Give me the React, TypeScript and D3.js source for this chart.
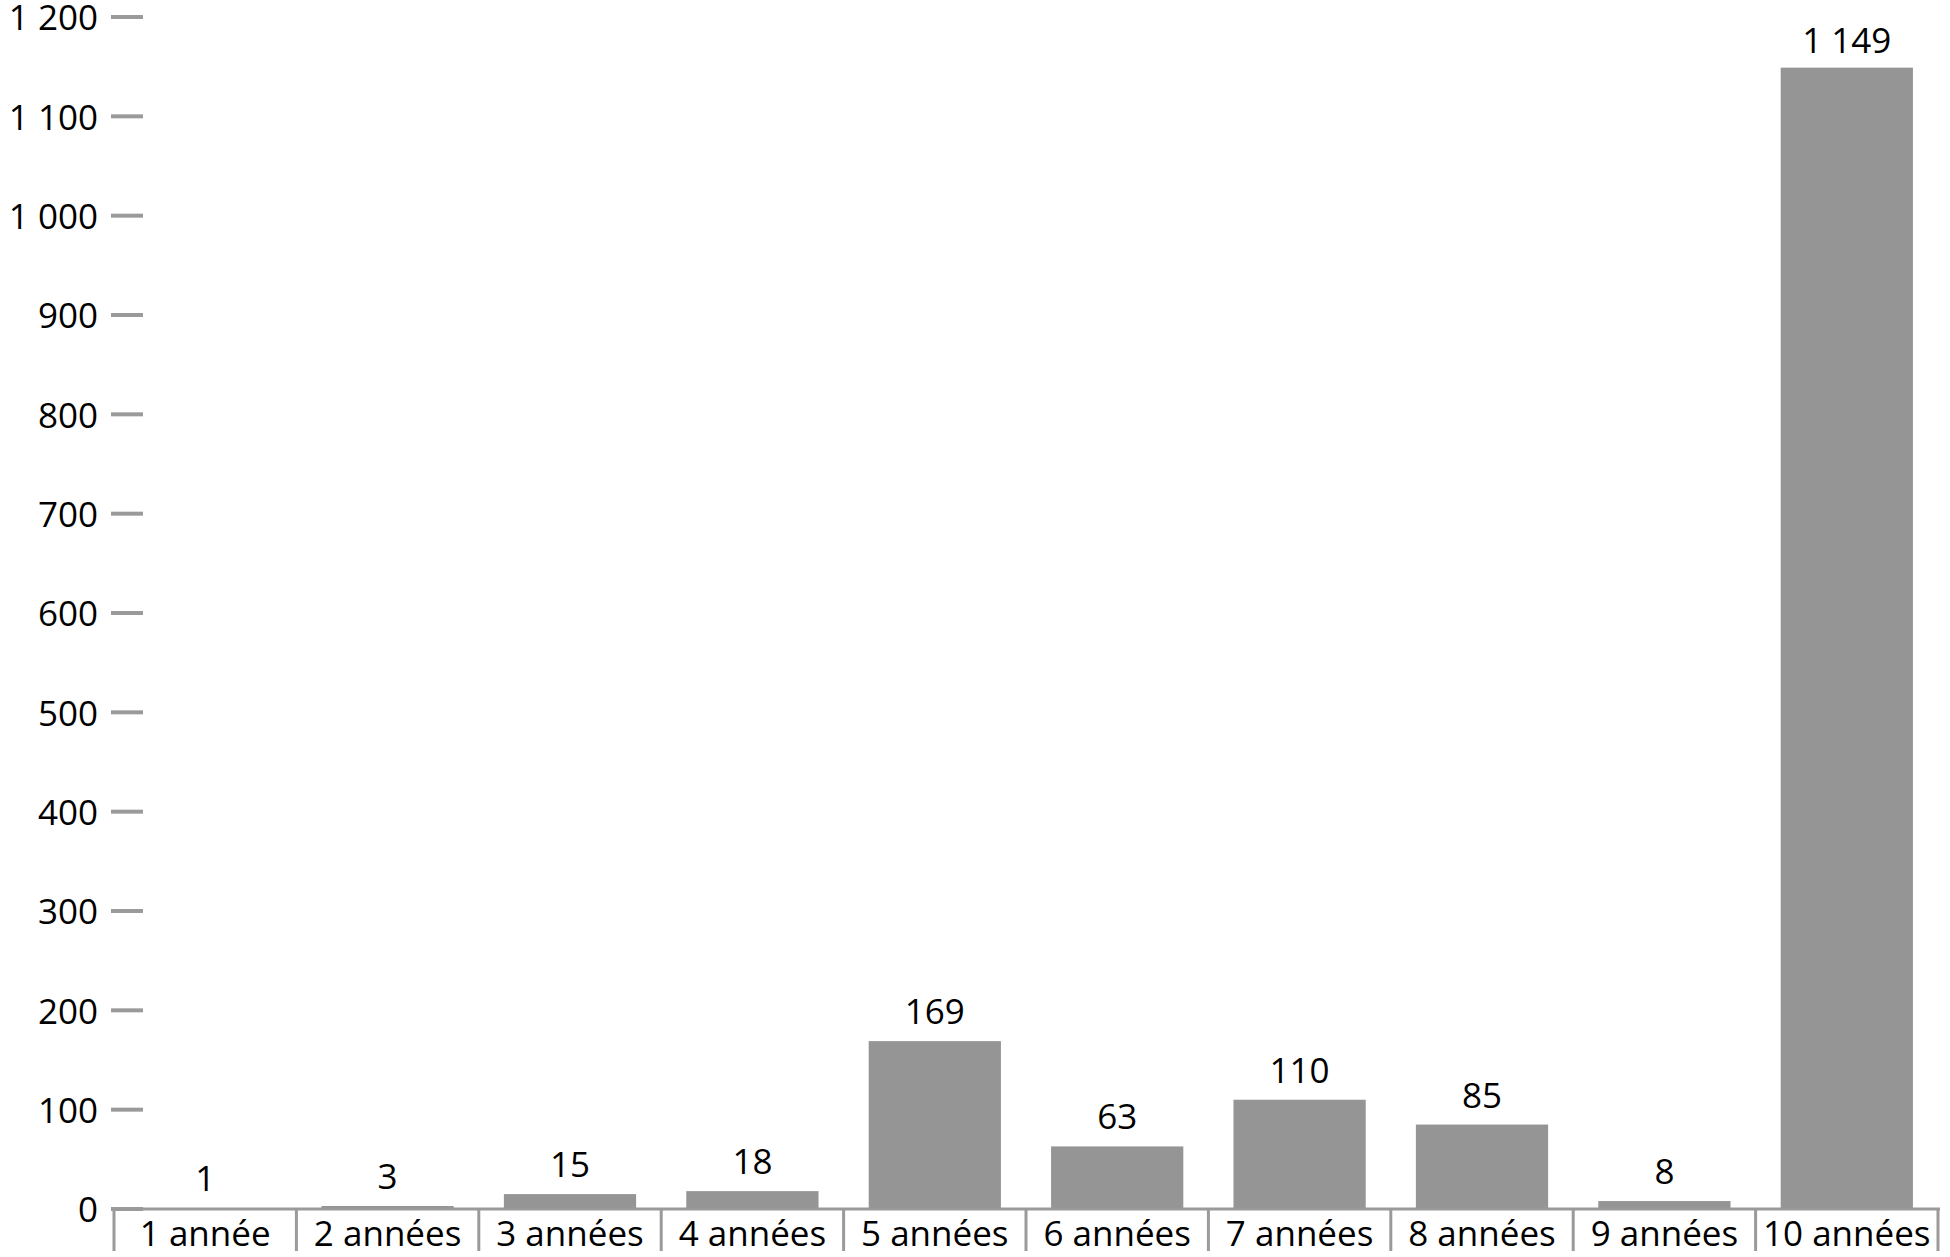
import React from "react";
import * as d3 from "d3";

const categories = ["1 année", "2 années", "3 années", "4 années", "5 années", "6 années", "7 années", "8 années", "9 années", "10 années"];
const values = [1, 3, 15, 18, 169, 63, 110, 85, 8, 1149];
const yTicks = [0, 100, 200, 300, 400, 500, 600, 700, 800, 900, 1000, 1100, 1200];

const W = 1950;
const H = 1257;
const left = 114;
const right = 1938;
const y0 = 1209;
const yTop = 17;
const FONT = "'Open Sans', 'Noto Sans', sans-serif";
const BAR = "#959595";
const AXIS = "#9a9a9a";

const fmt = (v: number) => d3.format(",")(v).replace(/,/g, " ");

export default function App() {
  const x = d3.scaleBand<string>().domain(categories).range([left, right]).paddingInner(0.275).paddingOuter(0.1375);
  const xb = d3.scaleBand<string>().domain(categories).range([left, right]).padding(0);
  const y = d3.scaleLinear().domain([0, 1200]).range([y0, yTop]);

  return (
    <svg width={W} height={H} style={{ position: "absolute", left: 0, top: 0, background: "#fff" }} fontFamily={FONT}>
      <rect x={0} y={0} width={W} height={H} fill="#fff" />
      {yTicks.map((t) => (
        <g key={t}>
          <line x1={111} x2={143} y1={y(t)} y2={y(t)} stroke={AXIS} strokeWidth={4} />
          <text x={98} y={y(t)} dy="0.38em" textAnchor="end" fontSize={35} fill="#000">
            {fmt(t)}
          </text>
        </g>
      ))}
      {categories.map((c, i) => (
        <rect key={c} x={x(c)} y={y(values[i])} width={x.bandwidth()} height={Math.max(y0 - y(values[i]), 1.5)} fill={i === 0 ? "#3d4a5a" : BAR} />
      ))}
      <line x1={left} x2={right + 2} y1={y0} y2={y0} stroke={AXIS} strokeWidth={3} />
      {[...categories.map((c) => xb(c) as number), right].map((bx, i) => (
        <line key={i} x1={bx} x2={bx} y1={y0} y2={1251} stroke={AXIS} strokeWidth={3} />
      ))}
      {categories.map((c, i) => (
        <text key={c} x={(x(c) as number) + x.bandwidth() / 2} y={Math.max(y(values[i]) - 17, 53)} textAnchor="middle" fontSize={35} fill="#000">
          {fmt(values[i])}
        </text>
      ))}
      {categories.map((c) => (
        <text key={c} x={(xb(c) as number) + xb.bandwidth() / 2} y={1246} textAnchor="middle" fontSize={35} fill="#000">
          {c}
        </text>
      ))}
    </svg>
  );
}
